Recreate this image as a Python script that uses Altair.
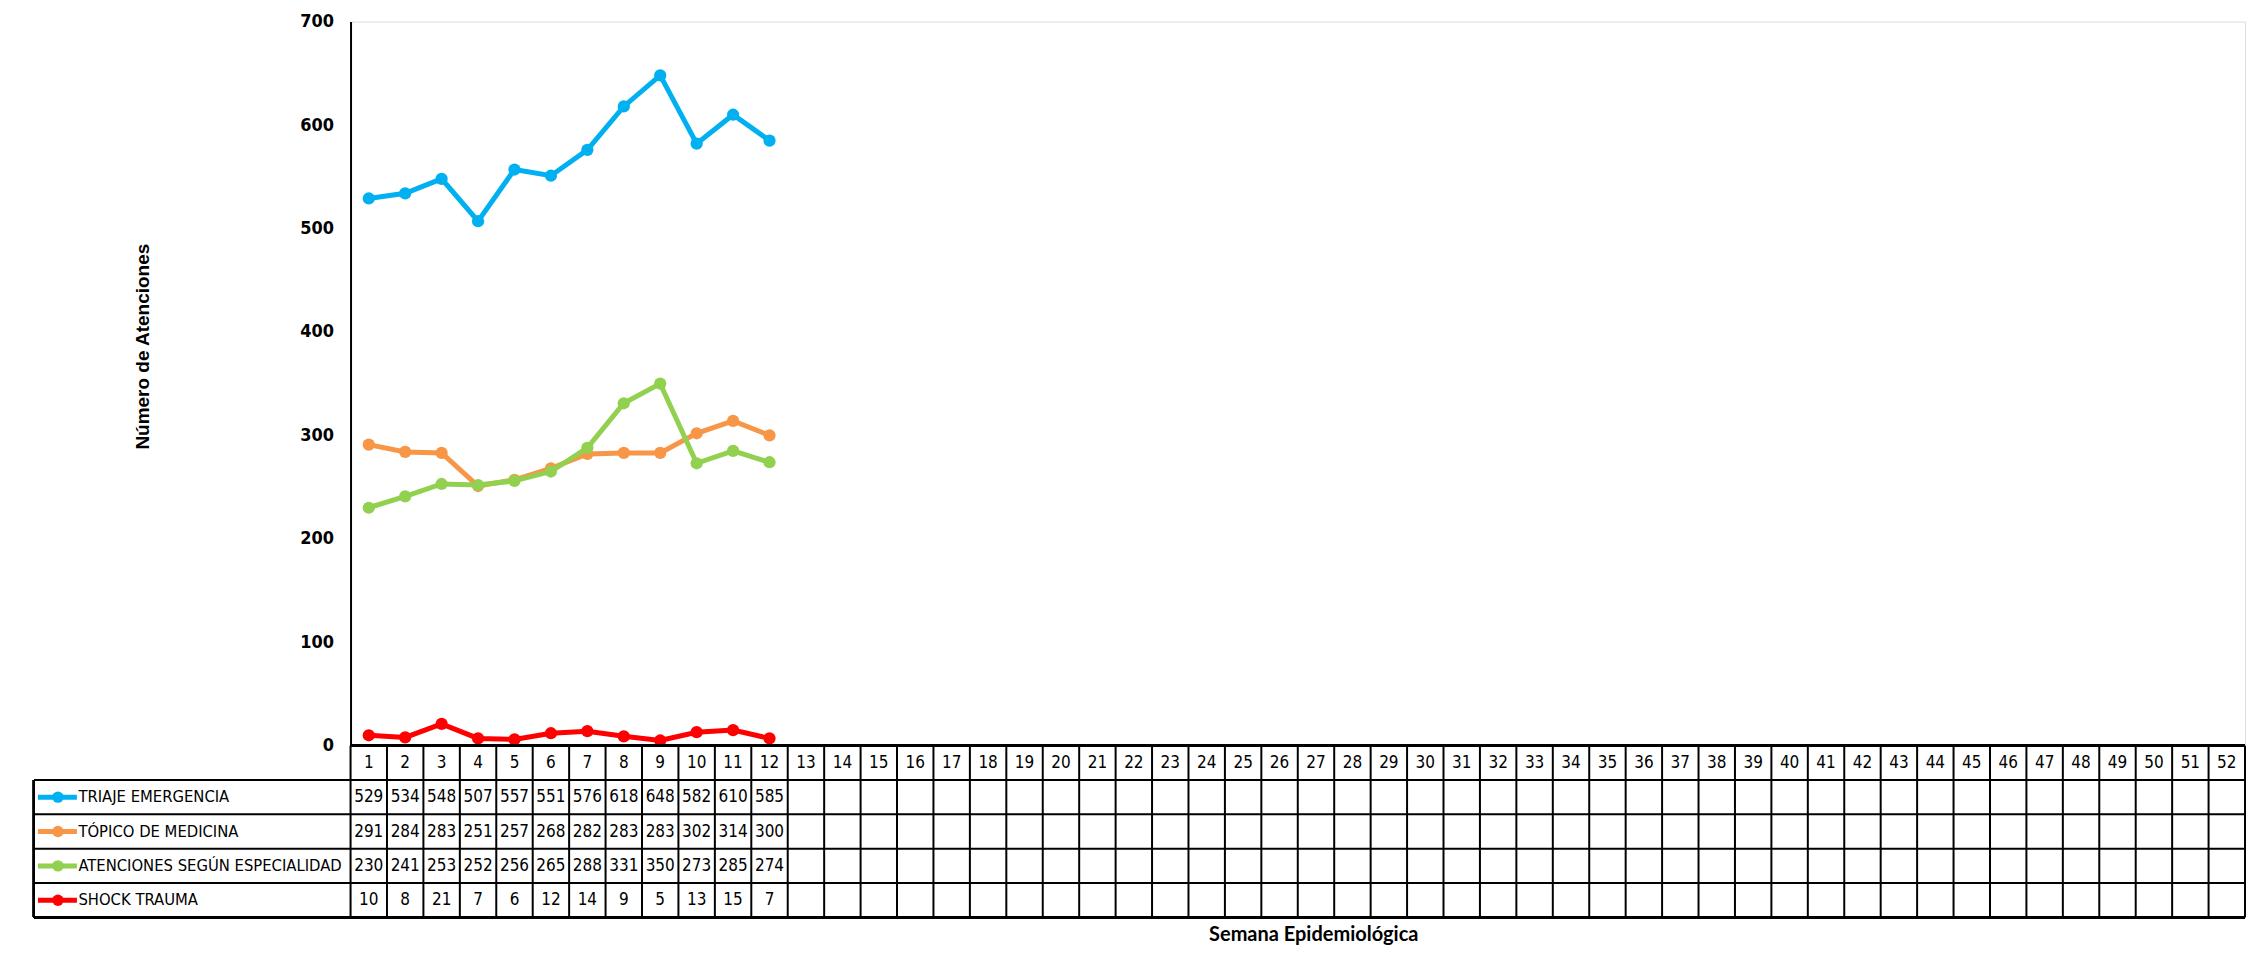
import altair as alt
import pandas as pd

# ---- data ----
weeks = list(range(1, 53))
series = ["TRIAJE EMERGENCIA", "TÓPICO DE MEDICINA", "ATENCIONES SEGÚN  ESPECIALIDAD", "SHOCK TRAUMA"]
triaje = [529, 534, 548, 507, 557, 551, 576, 618, 648, 582, 610, 585]
topico = [291, 284, 283, 251, 257, 268, 282, 283, 283, 302, 314, 300]
atenciones = [230, 241, 253, 252, 256, 265, 288, 331, 350, 273, 285, 274]
shock = [10, 8, 21, 7, 6, 12, 14, 9, 5, 13, 15, 7]
colors = ["#00B0F0", "#F79646", "#92D050", "#FF0000"]
y_ticks = [0, 100, 200, 300, 400, 500, 600, 700]
header_key = "Semana"

values = [triaje, topico, atenciones, shock]
rows = []
for s, vals in zip(series, values):
    for w, v in zip(weeks, vals):
        rows.append({"series": s, "week": w, "value": v, "row": s})
df = pd.DataFrame(rows)
hdr = pd.DataFrame({"week": weeks, "label": [str(w) for w in weeks], "row": header_key})
bounds = pd.DataFrame({"b": [w - 0.5 for w in weeks] + [weeks[-1] + 0.5]})
leg = pd.DataFrame({"row": series, "series": series})

W = 1897
H_TOP = 725
H_BOT = 172
BAND = H_BOT / 5

FONT_N = "Liberation Sans Narrow, DejaVu Sans Condensed, sans-serif"
FONT_A = "Liberation Sans, Arial, sans-serif"
FONT_C = "Lato, Open Sans, sans-serif"

x_scale = alt.Scale(domain=[0.5, 52.5], nice=False, zero=False)
color_scale = alt.Scale(domain=series, range=colors)

# ---- top: line chart ----
y_axis = alt.Axis(values=y_ticks, title="Número de Atenciones", titleFont=FONT_A, titleFontSize=19,
                  titleFontWeight="bold", titleColor="black", titleX=-208, titleY=325, titleAngle=270,
                  titleAlign="center", titleBaseline="middle",
                  labelFont=FONT_N, labelFontSize=18, labelFontWeight="bold", labelColor="black",
                  labelPadding=17, ticks=False, grid=False, domainColor="black", domainWidth=2)
layers = []
for s in series:
    b = alt.Chart(df).transform_filter(alt.datum.series == s)
    enc = dict(
        x=alt.X("week:Q", scale=x_scale, axis=None),
        y=alt.Y("value:Q", scale=alt.Scale(domain=[0, 700], nice=False), axis=y_axis),
        color=alt.Color("series:N", scale=color_scale, legend=None),
    )
    layers.append(b.mark_line(strokeWidth=5).encode(**enc))
    layers.append(b.mark_circle(size=150, opacity=1).encode(**enc))
top = alt.layer(*layers).properties(width=W, height=H_TOP)

# ---- bottom: data table ----
row_dom = [header_key] + series
x_axis = alt.Axis(title="Semana Epidemiológica", labels=False, ticks=False, domain=False, grid=False,
                  titleFont=FONT_C, titleFontSize=20, titleFontWeight="bold", titleColor="black",
                  titleX=964, titleAlign="center", titlePadding=7)
y_scale_b = alt.Scale(domain=row_dom, paddingInner=0, paddingOuter=0)
y_axis_b = alt.Axis(title=None, domain=False, ticks=False, grid=False, labelAlign="left",
                    labelPadding=273, labelLimit=500, labelFont=FONT_N, labelFontSize=16.5,
                    labelColor="black",
                    labelExpr="datum.value == 'Semana' ? '' : datum.value")
X = alt.X("week:Q", scale=x_scale, axis=x_axis)
Y = alt.Y("row:N", scale=y_scale_b, axis=y_axis_b)

hdr_text = alt.Chart(hdr).mark_text(font=FONT_N, fontSize=17, color="black").encode(x=X, y=Y, text="label:N")
val_text = alt.Chart(df).mark_text(font=FONT_N, fontSize=17, color="black").encode(x=X, y=Y, text="value:Q")
vrules = alt.Chart(bounds).mark_rule(color="black", strokeWidth=2).encode(
    x=alt.X("b:Q", scale=x_scale, axis=x_axis))
hrules = alt.Chart(leg).mark_rule(color="black", strokeWidth=2).encode(
    y=alt.Y("row:N", scale=y_scale_b, axis=y_axis_b, bandPosition=0),
    x=alt.value(-317), x2=alt.value(W))
top_line = alt.Chart(hdr).mark_rule(color="black", strokeWidth=2).encode(
    x=alt.value(0), x2=alt.value(W), y=alt.value(0))
bottom_line = alt.Chart(hdr).mark_rule(color="black", strokeWidth=2).encode(
    x=alt.value(-317), x2=alt.value(W), y=alt.value(H_BOT))
left_line = alt.Chart(hdr).mark_rule(color="black", strokeWidth=2).encode(
    x=alt.value(-317), y=alt.value(BAND), y2=alt.value(H_BOT))
sw_line = alt.Chart(leg).mark_rule(strokeWidth=5).encode(
    y=Y, x=alt.value(-313), x2=alt.value(-274),
    color=alt.Color("series:N", scale=color_scale, legend=None))
sw_pt = alt.Chart(leg).mark_circle(size=130, opacity=1).encode(
    y=Y, x=alt.value(-293),
    color=alt.Color("series:N", scale=color_scale, legend=None))

bottom = alt.layer(vrules, hrules, top_line, bottom_line, left_line, sw_line, sw_pt,
                   hdr_text, val_text).properties(width=W, height=H_BOT)

chart = alt.vconcat(top, bottom, spacing=0, bounds="flush").properties(
    padding={"left": 24, "top": 3, "right": 0, "bottom": 5}
).configure_view(stroke=None).configure(background="white")

chart.save("out.html", embed_options={"renderer": "svg", "actions": False})
